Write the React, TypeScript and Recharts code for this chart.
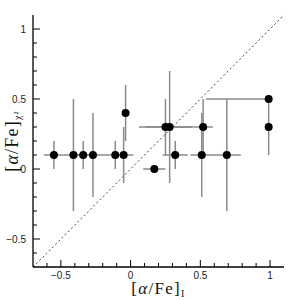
import React from 'react';
import { ScatterChart, Scatter, XAxis, YAxis, ErrorBar, ReferenceLine, Label } from 'recharts';

// [α/Fe]_I values (x) and [α/Fe]_χ² values (y)
const xValues = [-0.55, -0.41, -0.34, -0.27, -0.11, -0.05, -0.036, 0.17, 0.25, 0.28, 0.32, 0.52, 0.51, 0.69, 0.99, 0.99];
const yValues = [0.1, 0.1, 0.1, 0.1, 0.1, 0.1, 0.4, 0.0, 0.3, 0.3, 0.1, 0.3, 0.1, 0.1, 0.5, 0.3];
const xErrLow = [0.07, 0.07, 0.07, 0.08, 0.08, 0.07, 0, 0.08, 0.19, 0.17, 0.09, 0.07, 0.08, 0.1, 0.45, 0];
const xErrHigh = [0.07, 0.07, 0.07, 0.08, 0.08, 0.07, 0, 0.08, 0.19, 0.17, 0.09, 0.07, 0.08, 0.1, 0, 0];
const yErrLow = [0.1, 0.4, 0.1, 0.3, 0.1, 0.2, 0.2, 0, 0.2, 0.4, 0.1, 0.2, 0.3, 0.4, 0, 0.2];
const yErrHigh = [0.1, 0.4, 0.1, 0.3, 0.1, 0.2, 0.2, 0, 0.2, 0.4, 0.1, 0.2, 0.3, 0.4, 0, 0.2];

const axisDomain = [-0.7, 1.1];
const tickValues = [-0.6, -0.5, -0.4, -0.3, -0.2, -0.1, 0, 0.1, 0.2, 0.3, 0.4, 0.5, 0.6, 0.7, 0.8, 0.9, 1.0];
const majorTicks = [-0.5, 0, 0.5, 1];
const diagonal = [{ x: -0.7, y: -0.7 }, { x: 1.1, y: 1.1 }];

const data = xValues.map((x, i) => ({
  x,
  y: yValues[i],
  ex: [xErrLow[i], xErrHigh[i]],
  ey: [yErrLow[i], yErrHigh[i]],
}));

const SANS = '"Liberation Sans", Arial, Helvetica, sans-serif';
const SERIF = '"Liberation Serif", "Times New Roman", serif';
const MAJOR_LEN = 7;
const MINOR_LEN = 4;

const isMajor = (v: number) => majorTicks.some((m) => Math.abs(m - v) < 1e-6);
const fmt = (v: number) => (v < 0 ? '\u2212' + String(Math.abs(v)) : String(v));

const BottomTick = (p: any) => {
  const v = p.payload.value;
  const major = isMajor(v);
  return (
    <g>
      <line x1={p.x} x2={p.x} y1={p.y} y2={p.y - (major ? MAJOR_LEN : MINOR_LEN)} stroke="#000" strokeWidth={1} />
      {major && (
        <text x={p.x} y={p.y + 12} textAnchor="middle" fontFamily={SANS} fontSize={10} fill="#222">
          {fmt(v)}
        </text>
      )}
    </g>
  );
};

const TopTick = (p: any) => {
  const v = p.payload.value;
  const major = isMajor(v);
  return <line x1={p.x} x2={p.x} y1={p.y} y2={p.y + (major ? MAJOR_LEN : MINOR_LEN)} stroke="#000" strokeWidth={1} />;
};

const LeftTick = (p: any) => {
  const v = p.payload.value;
  const major = isMajor(v);
  return (
    <g>
      <line x1={p.x} x2={p.x + (major ? MAJOR_LEN : MINOR_LEN)} y1={p.y} y2={p.y} stroke="#000" strokeWidth={1} />
      {major && (
        <text x={p.x - 7} y={p.y + 3.5} textAnchor="end" fontFamily={SANS} fontSize={10} fill="#222">
          {fmt(v)}
        </text>
      )}
    </g>
  );
};

const RightTick = (p: any) => {
  const v = p.payload.value;
  const major = isMajor(v);
  return <line x1={p.x} x2={p.x - (major ? MAJOR_LEN : MINOR_LEN)} y1={p.y} y2={p.y} stroke="#000" strokeWidth={1} />;
};

const XLabel = (props: any) => {
  const vb = props.viewBox;
  const cx = vb.x + vb.width / 2;
  return (
    <text x={cx} y={vb.y + 27} textAnchor="middle" fontFamily={SERIF} fontSize={17} fill="#111" letterSpacing={1.3}>
      [<tspan fontStyle="italic">α</tspan>/Fe]
      <tspan fontSize={10} dy={3}>I</tspan>
    </text>
  );
};

const YLabel = (props: any) => {
  const vb = props.viewBox;
  const cx = 18;
  const cy = vb.y + vb.height / 2;
  return (
    <text
      x={cx}
      y={cy}
      transform={`rotate(-90 ${cx} ${cy})`}
      textAnchor="middle"
      fontFamily={SERIF}
      fontSize={18}
      fill="#111"
      letterSpacing={1.2}
    >
      [<tspan fontStyle="italic">α</tspan>/Fe]
      <tspan fontSize={10} dy={3}>χ²</tspan>
    </text>
  );
};

const Dot = (p: any) => <circle cx={p.cx} cy={p.cy} r={4} fill="#000" />;
const Empty = () => <g />;

export default function App() {
  return (
    <div style={{ position: 'absolute', left: 0, top: 0, width: 300, height: 300, background: '#fff' }}>
      <ScatterChart width={300} height={300} margin={{ top: 15, right: 16, bottom: 0, left: 0 }}>
        <XAxis
          xAxisId={0}
          type="number"
          dataKey="x"
          domain={axisDomain}
          allowDataOverflow
          ticks={tickValues}
          interval={0}
          height={33}
          tickSize={0}
          tickMargin={0}
          tick={(p: any) => <BottomTick {...p} />}
          axisLine={{ stroke: '#000', strokeWidth: 1.3 }}
        >
          <Label content={(p: any) => <XLabel {...p} />} />
        </XAxis>
        <XAxis
          xAxisId="top"
          orientation="top"
          type="number"
          domain={axisDomain}
          allowDataOverflow
          ticks={tickValues}
          interval={0}
          height={0}
          tickSize={0}
          tickMargin={0}
          tick={(p: any) => <TopTick {...p} />}
          axisLine={{ stroke: '#000', strokeWidth: 1.3 }}
        />
        <YAxis
          yAxisId={0}
          type="number"
          dataKey="y"
          domain={axisDomain}
          allowDataOverflow
          ticks={tickValues}
          interval={0}
          width={33}
          tickSize={0}
          tickMargin={0}
          tick={(p: any) => <LeftTick {...p} />}
          axisLine={{ stroke: '#000', strokeWidth: 1.3 }}
        >
          <Label content={(p: any) => <YLabel {...p} />} />
        </YAxis>
        <YAxis
          yAxisId="right"
          orientation="right"
          type="number"
          domain={axisDomain}
          allowDataOverflow
          ticks={tickValues}
          interval={0}
          width={0}
          tickSize={0}
          tickMargin={0}
          tick={(p: any) => <RightTick {...p} />}
          axisLine={{ stroke: '#000', strokeWidth: 1.3 }}
        />
        <ReferenceLine
          segment={diagonal}
          stroke="#444"
          strokeWidth={1}
          strokeDasharray="2 2.5"
          ifOverflow="visible"
        />
        <Scatter data={data} isAnimationActive={false} shape={(p: any) => <Empty {...p} />}>
          <ErrorBar dataKey="ex" direction="x" width={0} stroke="#8a8a8a" strokeWidth={1.5} isAnimationActive={false} />
          <ErrorBar dataKey="ey" direction="y" width={0} stroke="#8a8a8a" strokeWidth={1.5} isAnimationActive={false} />
        </Scatter>
        <Scatter data={data} isAnimationActive={false} shape={(p: any) => <Dot {...p} />} />
      </ScatterChart>
    </div>
  );
}
